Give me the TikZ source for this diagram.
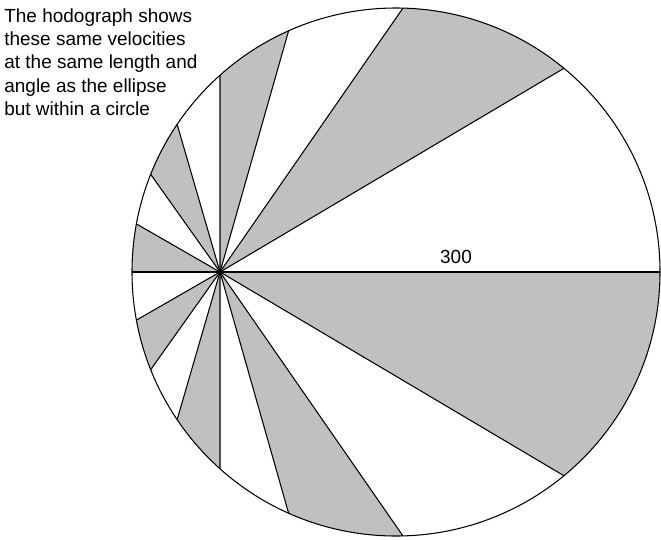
\documentclass[tikz,border=0pt]{standalone}
\usepackage{fontspec}
\setmainfont{Liberation Sans}
\usetikzlibrary{calc}
\definecolor{bandgray}{RGB}{192,192,192}

\begin{document}
\begin{tikzpicture}[x=0.02cm, y=0.02cm,
    spoke/.style={line width=0.6pt},
    band/.style={fill=bandgray},
    note/.style={font=\fontsize{10.8}{13.3}\selectfont, align=left, inner sep=0pt}
  ]
    \useasboundingbox (0,0) rectangle (661,539);
    \coordinate (c) at (396,267);
    \coordinate (f) at (220,267);

    \foreach \a/\b in {50.5/88.5, 114/131.81, 146/158.3, 169.5/180,
                       190.5/201.7, 214/228.19, 246/271.5, 309.5/360}
      \fill[band] (f) -- ($(c)+(\a:264)$) arc[start angle=\a, end angle=\b, radius=264] -- cycle;

    \foreach \a in {0,50.5,88.5,114,131.81,146,158.3,169.5,180,
                    190.5,201.7,214,228.19,246,271.5,309.5}
      \draw[spoke] (f) -- ($(c)+(\a:264)$);
    \draw[spoke] (c) circle[radius=264];
    \fill (f) circle[radius=2];

    \node[note, anchor=north west] (txt) at (4,531) {The hodograph shows\\these same velocities\\at the same length and\\angle as the ellipse\\but within a circle};
    \node[font=\fontsize{10.8}{13.3}\selectfont, inner sep=0pt] (len) at (456,282) {300};
  \end{tikzpicture}
\end{document}
